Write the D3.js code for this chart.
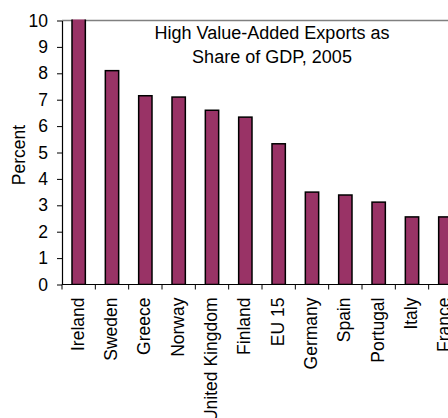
<!DOCTYPE html>
<html>
<head>
<meta charset="utf-8">
<style>
  body { margin: 0; background: #fff; }
  text { font-family: "Liberation Sans", Arial, sans-serif; fill: #000; }
</style>
</head>
<body>
<script src="https://cdn.jsdelivr.net/npm/d3@7"></script>
<script>

// values
var countries = ["Ireland", "Sweden", "Greece", "Norway", "United Kingdom", "Finland",
                 "EU 15", "Germany", "Spain", "Portugal", "Italy", "France"];
var shares = [10.1, 8.1, 7.15, 7.1, 6.6, 6.34, 5.33, 3.5, 3.39, 3.12, 2.56, 2.56];
var yTicks = [0, 1, 2, 3, 4, 5, 6, 7, 8, 9, 10];
var titleLines = ["High Value-Added Exports as", "Share of GDP, 2005"];

var W = 448, H = 418;
var plotLeft = 62, plotTop = 20.5, plotBottom = 284.5;

var svg = d3.select("body").append("svg")
    .attr("width", W)
    .attr("height", H);

// chart runs off the right edge in the original
var x = d3.scaleBand()
    .domain(countries)
    .range([plotLeft, plotLeft + 400])
    .paddingInner(0.6)
    .paddingOuter(0.3);

var y = d3.scaleLinear()
    .domain([0, 10])
    .range([plotBottom, plotTop]);

svg.append("defs").append("clipPath").attr("id", "plot")
  .append("rect")
    .attr("x", plotLeft).attr("y", plotTop - 1)
    .attr("width", W - plotLeft).attr("height", plotBottom - plotTop + 1);

// grey top border of plot area
svg.append("line")
    .attr("x1", plotLeft).attr("x2", W)
    .attr("y1", plotTop).attr("y2", plotTop)
    .attr("stroke", "#808080")
    .attr("stroke-width", 1.5);

svg.append("g")
    .attr("clip-path", "url(#plot)")
  .selectAll("rect")
    .data(countries)
  .enter().append("rect")
    .attr("x", d => x(d))
    .attr("width", x.bandwidth())
    .attr("y", (d, i) => y(shares[i]))
    .attr("height", (d, i) => y(0) - y(shares[i]))
    .attr("fill", "#993366")
    .attr("stroke", "#000")
    .attr("stroke-width", 1.5);

// y axis
var yAxis = svg.append("g")
    .attr("transform", `translate(${plotLeft},0)`)
    .call(d3.axisLeft(y).tickValues(yTicks).tickSize(5).tickSizeOuter(0).tickPadding(9));
yAxis.select(".domain").attr("stroke", "#000").attr("stroke-width", 1.2);
yAxis.selectAll(".tick line").attr("stroke", "#000");
yAxis.selectAll("text")
    .style("font-family", "Liberation Sans, Arial, sans-serif")
    .style("font-size", "17.5px");

// x axis: labels at band centres, tick marks between bands
var xAxis = svg.append("g")
    .attr("transform", `translate(0,${plotBottom})`)
    .call(d3.axisBottom(x).tickSize(0).tickSizeOuter(0));
xAxis.select(".domain").remove();
xAxis.selectAll("text")
    .style("font-family", "Liberation Sans, Arial, sans-serif")
    .style("font-size", "17.5px")
    .attr("transform", "rotate(-90)")
    .attr("text-anchor", "end")
    .attr("x", -13)
    .attr("y", -1)
    .attr("dy", "0.35em");

svg.append("line")
    .attr("x1", plotLeft).attr("x2", W)
    .attr("y1", plotBottom).attr("y2", plotBottom)
    .attr("stroke", "#000")
    .attr("stroke-width", 1.2);

var edges = countries.map(d => x(d) - x.step() * x.paddingOuter());
svg.selectAll(".xtick")
    .data(edges)
  .enter().append("line")
    .attr("class", "xtick")
    .attr("x1", d => d).attr("x2", d => d)
    .attr("y1", plotBottom).attr("y2", plotBottom + 5)
    .attr("stroke", "#000");

// y label
svg.append("text")
    .attr("transform", "translate(25,155) rotate(-90)")
    .attr("text-anchor", "middle")
    .style("font-size", "17.5px")
    .text("Percent");

// title
svg.append("g").selectAll("text")
    .data(titleLines)
  .enter().append("text")
    .attr("x", 272)
    .attr("y", (d, i) => 39 + i * 24)
    .attr("text-anchor", "middle")
    .style("font-size", "18px")
    .text(d => d);

</script>
</body>
</html>
